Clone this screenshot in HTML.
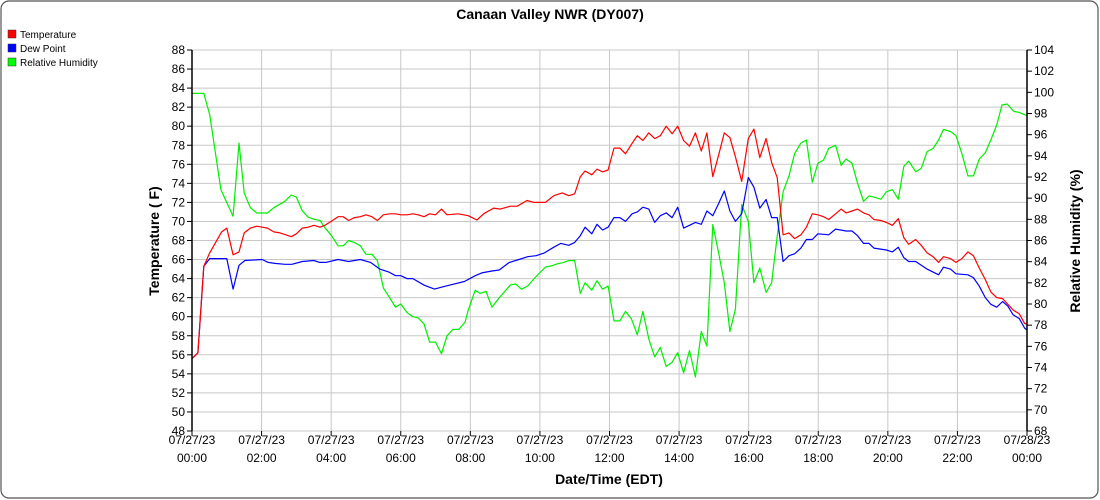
<!DOCTYPE html>
<html><head><meta charset="utf-8"><style>
html,body{margin:0;padding:0;background:#fff;}
svg{display:block;font-family:"Liberation Sans",Arial,sans-serif;}
</style></head><body>
<svg id="chart" width="1100" height="500" viewBox="0 0 1100 500">
<rect x="1" y="1" width="1097" height="497" rx="8" fill="#fff" stroke="#555" stroke-width="1.2"/>
<text x="550" y="19" text-anchor="middle" font-size="14" font-weight="bold">Canaan Valley NWR (DY007)</text>
<g font-size="10">
<g><rect x="8" y="30" width="8" height="8" fill="#f00" stroke="#333" stroke-width="0.5"/><text x="20" y="38">Temperature</text></g>
<g><rect x="8" y="44" width="8" height="8" fill="#00f" stroke="#333" stroke-width="0.5"/><text x="20" y="52">Dew Point</text></g>
<g><rect x="8" y="58" width="8" height="8" fill="#0f0" stroke="#333" stroke-width="0.5"/><text x="20" y="66">Relative Humidity</text></g>
</g>
<g id="grid"></g>
<g id="series"></g>
<g id="axes"></g>
<text x="609" y="484" text-anchor="middle" font-size="14" font-weight="bold">Date/Time (EDT)</text>
<text transform="translate(159,241) rotate(-90)" text-anchor="middle" font-size="14" font-weight="bold">Temperature ( F)</text>
<text transform="translate(1080,241) rotate(-90)" text-anchor="middle" font-size="14" font-weight="bold">Relative Humidity (%)</text>
</svg>
<script>
const tempHours=[0,0.17,0.34,0.51,0.85,1.0,1.18,1.35,1.5,1.68,1.86,2.02,2.17,2.35,2.53,2.7,2.85,3.0,3.17,3.34,3.51,3.68,3.82,4.0,4.2,4.35,4.5,4.67,4.84,5.0,5.17,5.33,5.5,5.68,5.85,6.0,6.18,6.35,6.5,6.67,6.83,7.0,7.17,7.33,7.65,7.94,8.19,8.38,8.67,8.86,9.15,9.35,9.63,9.83,10.16,10.4,10.64,10.83,11.0,11.16,11.3,11.49,11.64,11.8,11.96,12.13,12.3,12.46,12.65,12.8,12.96,13.13,13.3,13.46,13.63,13.8,13.96,14.13,14.3,14.47,14.64,14.8,14.97,15.14,15.3,15.46,15.62,15.8,15.99,16.15,16.32,16.5,16.66,16.82,16.99,17.16,17.32,17.5,17.66,17.83,17.99,18.15,18.3,18.5,18.66,18.8,18.97,19.13,19.3,19.46,19.6,19.8,19.96,20.13,20.3,20.46,20.6,20.8,20.96,21.13,21.3,21.46,21.6,21.8,21.96,22.13,22.3,22.46,22.63,22.8,22.96,23.13,23.3,23.45,23.6,23.78,23.93,24];
const tempValues=[55.6,56.2,65.3,66.7,68.9,69.3,66.5,66.8,68.8,69.3,69.5,69.4,69.3,68.9,68.8,68.6,68.4,68.7,69.3,69.4,69.6,69.4,69.6,70.0,70.5,70.5,70.1,70.4,70.5,70.7,70.5,70.1,70.7,70.8,70.8,70.7,70.7,70.8,70.7,70.5,70.8,70.7,71.3,70.7,70.8,70.6,70.15,70.8,71.4,71.3,71.6,71.6,72.2,72.0,72.0,72.7,73.0,72.7,72.9,74.7,75.3,74.9,75.5,75.2,75.4,77.7,77.7,77.1,78.2,79.0,78.5,79.3,78.7,79.0,80.0,79.2,80.0,78.5,77.9,79.3,77.4,79.3,74.7,77.0,79.3,78.8,76.8,74.2,78.7,79.7,76.7,78.7,76.2,74.6,68.6,68.8,68.2,68.6,69.4,70.8,70.7,70.5,70.2,70.8,71.3,70.9,71.1,71.3,70.9,70.7,70.2,70.1,69.9,69.6,70.3,68.3,67.6,68.1,67.5,66.7,66.3,65.7,66.3,66.1,65.7,66.1,66.8,66.4,65.1,63.9,62.6,62.0,61.9,61.3,60.7,60.3,59.3,59.2];
const dewHours=[0,0.17,0.34,0.51,1.0,1.18,1.35,1.52,2.02,2.19,2.38,2.67,2.87,3.17,3.5,3.67,3.85,4.2,4.5,4.84,5.13,5.4,5.65,5.85,6.0,6.18,6.35,6.68,6.97,7.17,7.5,7.83,8.14,8.33,8.62,8.83,9.12,9.4,9.65,9.89,10.13,10.4,10.6,10.83,11.0,11.16,11.3,11.49,11.64,11.8,11.96,12.13,12.3,12.46,12.65,12.8,12.96,13.13,13.3,13.46,13.63,13.8,13.96,14.13,14.3,14.47,14.64,14.8,14.97,15.14,15.3,15.46,15.62,15.8,15.99,16.15,16.32,16.5,16.66,16.82,16.99,17.16,17.32,17.5,17.66,17.83,17.99,18.3,18.5,18.8,18.97,19.13,19.3,19.46,19.6,19.96,20.13,20.3,20.46,20.6,20.8,21.13,21.46,21.6,21.8,21.96,22.3,22.46,22.63,22.8,22.96,23.13,23.3,23.45,23.6,23.78,23.93,24];
const dewValues=[55.6,56.2,65.3,66.1,66.1,62.9,65.4,65.9,66.0,65.7,65.6,65.5,65.5,65.8,65.9,65.7,65.7,66.0,65.8,66.0,65.7,65.0,64.7,64.3,64.3,64.0,64.0,63.3,62.9,63.1,63.4,63.7,64.3,64.6,64.8,64.9,65.7,66.0,66.3,66.4,66.7,67.3,67.7,67.5,67.8,68.5,69.4,68.7,69.7,69.1,69.4,70.4,70.4,70.0,70.8,71.0,71.5,71.3,69.9,70.6,70.9,70.4,71.5,69.3,69.6,69.9,69.7,71.1,70.6,71.9,73.2,71.1,70.0,70.8,74.6,73.6,71.4,72.3,70.4,70.4,65.8,66.4,66.6,67.2,68.1,68.1,68.7,68.6,69.2,69.0,69.0,68.5,67.7,67.7,67.2,67.0,66.8,67.3,66.2,65.8,65.8,65.0,64.4,65.2,65.0,64.5,64.4,64.1,63.2,62.0,61.3,61.0,61.6,61.1,60.2,59.8,58.8,58.6];
const rhHours=[0,0.34,0.51,0.83,1.18,1.35,1.5,1.68,1.86,2.17,2.35,2.67,2.85,3.0,3.17,3.34,3.51,3.68,3.82,4.0,4.2,4.35,4.5,4.67,4.84,5.0,5.17,5.33,5.5,5.68,5.85,6.0,6.18,6.35,6.5,6.67,6.83,7.0,7.17,7.33,7.5,7.67,7.85,7.94,8.14,8.28,8.45,8.62,8.81,9.15,9.3,9.47,9.65,9.89,10.16,10.33,10.5,10.66,10.83,11.0,11.16,11.3,11.49,11.64,11.8,11.96,12.13,12.3,12.46,12.63,12.8,12.96,13.13,13.3,13.46,13.63,13.8,13.96,14.13,14.3,14.47,14.64,14.8,14.97,15.14,15.3,15.46,15.62,15.8,15.99,16.15,16.32,16.5,16.66,16.82,16.99,17.16,17.32,17.5,17.66,17.83,17.99,18.15,18.3,18.5,18.66,18.8,18.97,19.13,19.3,19.46,19.6,19.8,19.96,20.13,20.3,20.46,20.6,20.8,20.96,21.13,21.3,21.46,21.6,21.8,21.96,22.13,22.3,22.46,22.63,22.8,22.96,23.13,23.28,23.43,23.62,23.78,24];
const rhValues=[99.9,99.9,97.9,90.8,88.3,95.2,90.5,89.1,88.6,88.6,89.1,89.7,90.3,90.1,88.8,88.2,88.0,87.9,87.2,86.5,85.5,85.5,86.0,85.8,85.5,84.7,84.7,84.1,81.5,80.6,79.7,80.0,79.2,78.8,78.7,78.1,76.4,76.4,75.3,77.0,77.6,77.6,78.3,79.4,81.3,81.0,81.2,79.7,80.5,81.8,81.9,81.4,81.7,82.6,83.5,83.6,83.8,83.9,84.1,84.1,81.0,82.0,81.3,82.2,81.4,81.7,78.4,78.4,79.3,78.6,77.1,79.3,76.7,75.0,75.9,74.1,74.5,75.4,73.5,75.6,73.1,77.4,76.0,87.5,84.8,82.0,77.4,79.5,89.4,87.8,82.0,83.4,81.1,82.0,86.4,90.6,92.1,94.2,95.2,95.5,91.5,93.3,93.6,94.7,95.0,93.1,93.7,93.3,91.4,89.7,90.2,90.1,89.9,90.6,90.8,89.9,93.0,93.5,92.5,92.8,94.4,94.7,95.5,96.5,96.3,95.9,94.2,92.1,92.1,93.7,94.3,95.5,96.9,98.8,98.9,98.2,98.1,97.8];
const leftTicks=[48,50,52,54,56,58,60,62,64,66,68,70,72,74,76,78,80,82,84,86,88];
const rightTicks=[68,70,72,74,76,78,80,82,84,86,88,90,92,94,96,98,100,102,104];
const xTickHours=[0,2,4,6,8,10,12,14,16,18,20,22,24];
const xTickDates=["07/27/23","07/27/23","07/27/23","07/27/23","07/27/23","07/27/23","07/27/23","07/27/23","07/27/23","07/27/23","07/27/23","07/27/23","07/28/23"];
const xTickTimes=["00:00","02:00","04:00","06:00","08:00","10:00","12:00","14:00","16:00","18:00","20:00","22:00","00:00"];

const L=192,R=1027,T=50,B=431;
const xS=h=>L+(h/24)*(R-L);
const yL=v=>B-(v-48)/40*(B-T);
const yR=v=>B-(v-68)/36*(B-T);
const NS="http://www.w3.org/2000/svg";
function mk(tag,attrs,parent){const e=document.createElementNS(NS,tag);for(const k in attrs)e.setAttribute(k,attrs[k]);parent.appendChild(e);return e;}
const grid=document.getElementById('grid'),axes=document.getElementById('axes'),series=document.getElementById('series');
leftTicks.forEach(v=>{
  const g=mk('line',{x1:L,x2:R,y1:yL(v),y2:yL(v),stroke:'#c8c8c8','stroke-width':1},grid);
  
  
  mk('line',{x1:L-5,x2:L,y1:yL(v),y2:yL(v),stroke:'#000'},axes);
  const t=mk('text',{x:L-7,y:yL(v)+4,'text-anchor':'end','font-size':12},axes);
  t.textContent=v;
  
  
});
rightTicks.forEach(v=>{
  mk('line',{x1:R,x2:R+5,y1:yR(v),y2:yR(v),stroke:'#000'},axes);
  const t=mk('text',{x:R+7,y:yR(v)+4,'text-anchor':'start','font-size':12},axes);
  t.textContent=v;
  
  
});
xTickHours.forEach((h,i)=>{
  const g=mk('line',{x1:xS(h),x2:xS(h),y1:T,y2:B,stroke:'#c8c8c8'},grid);
  
  
  mk('line',{x1:xS(h),x2:xS(h),y1:B,y2:B+5,stroke:'#000'},axes);
  const t=mk('text',{x:xS(h),y:B+13,'text-anchor':'middle','font-size':12},axes);
  t.textContent=xTickDates[i];
  
  
  const t2=mk('text',{x:xS(h),y:B+31,'text-anchor':'middle','font-size':12},axes);
  t2.textContent=xTickTimes[i];
  
  
});
mk('line',{x1:L,x2:L,y1:T,y2:B,stroke:'#000','stroke-width':1.5},axes);
mk('line',{x1:R,x2:R,y1:T,y2:B,stroke:'#000','stroke-width':1.5},axes);
function line(hs,vs,ys,color,name){
  const pts=hs.map((h,i)=>xS(h).toFixed(1)+','+ys(vs[i]).toFixed(1)).join(' ');
  const p=mk('polyline',{points:pts,fill:'none',stroke:color,'stroke-width':1.2,'stroke-linejoin':'round'},series);
  
  
}
line(rhHours,rhValues,yR,'#00ee00','relative-humidity-line');
line(dewHours,dewValues,yL,'#0000ff','dew-point-line');
line(tempHours,tempValues,yL,'#ff0000','temperature-line');
</script>
</body></html>
